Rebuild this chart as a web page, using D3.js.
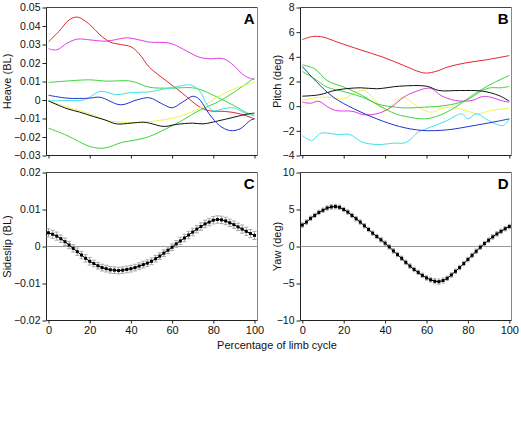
<!DOCTYPE html>
<html><head><meta charset="utf-8">
<script src="https://cdn.jsdelivr.net/npm/d3@7"></script>
<style>
html,body{margin:0;padding:0;background:#fff;}
svg text{font-family:"Liberation Sans",Arial,Helvetica,sans-serif;}
</style></head>
<body>
<svg id="chart" width="521" height="441"></svg>
<script>
// ---------- DATA ----------
// Panel A: Heave (BL), [percent, value]
const heaveRed = [[0,0.0315],[5,0.037],[10,0.0433],[14,0.0448],[20,0.0408],[25,0.0352],[30,0.0313],[35,0.0300],[40,0.0288],[44,0.025],[49,0.0177],[57,0.0105],[65,0.0037],[73,-0.0035],[78,-0.0058],[86,-0.0062],[93,-0.0075],[100,-0.0102]];
const heaveMagenta = [[0,0.0277],[4,0.0271],[9,0.0307],[14,0.0329],[20,0.0325],[28,0.0318],[38,0.0336],[44,0.0325],[49,0.0313],[59,0.0307],[65,0.0277],[73,0.0232],[78,0.0223],[85,0.0223],[90,0.0186],[95,0.0132],[100,0.0109]];
const heaveGreen1 = [[0,0.0095],[12,0.0105],[20,0.0109],[28,0.0102],[40,0.0102],[49,0.0069],[59,0.0064],[70,0.0066],[75,0.0051],[82,0.0015],[90,-0.003],[96,-0.0068],[100,-0.0084]];
const heaveGreen2 = [[0,-0.0152],[9,-0.0192],[20,-0.0251],[27,-0.026],[36,-0.0228],[43,-0.0215],[49,-0.0197],[57,-0.0156],[65,-0.011],[73,-0.0057],[82,-0.0012],[90,0.0042],[100,0.012]];
const heaveBlue = [[0,0.0026],[9,0.001],[20,0.001],[25,0.0015],[35,-0.0026],[43,0.0001],[49,0.0012],[55,-0.002],[60,-0.0042],[65,-0.0012],[70,0.002],[73,0.0006],[78,-0.0075],[83,-0.0138],[88,-0.0165],[93,-0.0156],[98,-0.011],[100,-0.0102]];
const heaveCyan = [[0,-0.0005],[9,-0.0003],[17,0],[20,0.0015],[25,0.0047],[33,0.0029],[40,0.004],[49,0.0044],[56,0.0059],[62,0.0072],[69,0.0081],[73,0.0054],[77,-0.0025],[80,-0.0058],[85,-0.0047],[90,-0.0042],[95,-0.0069],[100,-0.0085]];
const heaveBlack = [[0,-0.0005],[9,-0.0047],[15,-0.0065],[22,-0.009],[27,-0.0106],[33,-0.0129],[40,-0.0125],[46,-0.012],[49,-0.0125],[56,-0.0143],[62,-0.0132],[70,-0.0125],[75,-0.0129],[82,-0.0114],[90,-0.0093],[97,-0.0075],[100,-0.0071]];
const heaveYellow = [[0,-0.0005],[9,-0.0038],[15,-0.0056],[22,-0.0083],[28,-0.011],[35,-0.0119],[44,-0.0122],[49,-0.0117],[59,-0.0101],[65,-0.0083],[73,-0.0047],[82,0.0015],[90,0.006],[100,0.0096]];

// Panel B: Pitch (deg), [percent, value]
const pitchRed = [[0,5.4],[5,5.65],[10,5.6],[17,5.19],[28,4.57],[39,3.97],[49,3.3],[57,2.76],[60,2.68],[65,2.84],[70,3.16],[79,3.51],[89,3.76],[100,4.1]];
const pitchBlack = [[0,0.81],[8,0.92],[17,1.32],[28,1.49],[36,1.41],[47,1.62],[60,1.62],[66,1.27],[76,1.27],[87,1.22],[95,0.86],[100,0.41]];
const pitchBlue = [[0,3.22],[7,1.95],[15,0.73],[25,-0.22],[36,-1.03],[47,-1.65],[58,-1.97],[70,-1.92],[83,-1.57],[92,-1.3],[100,-1.03]];
const pitchGreen1 = [[0,3.35],[6,3.03],[12,2.08],[21,1.49],[29,0.86],[37,0.05],[45,-0.62],[50,-0.84],[59,-1.03],[66,-0.76],[74,-0.08],[82,0.86],[90,1.68],[100,2.49]];
const pitchGreen2 = [[0,2.81],[6,2.22],[12,1.54],[21,1.14],[29,0.73],[37,0.14],[45,-0.08],[50,-0.14],[59,-0.08],[69,0.05],[79,0.46],[87,1.27],[91,1.49],[96,1.49],[100,1.6]];
const pitchMagenta = [[0,0.32],[4,0.24],[8,0.40],[12,-0.03],[16,-0.35],[24,-0.41],[30,-0.7],[37,-0.57],[43,-0.08],[49,0.73],[54,1.14],[62,1.45],[67,0.86],[74,0.46],[82,0.46],[87,0.78],[91,0.73],[96,0.46],[100,0.32]];
const pitchYellow = [[0,0.46],[6,0.68],[12,0.73],[20,0.59],[26,1.14],[30,1.27],[35,0.46],[40,-0.35],[44,0.19],[49,0.7],[56,-0.08],[62,-0.49],[67,-0.22],[72,-0.08],[79,-0.35],[85,-0.62],[91,-0.35],[100,-0.16]];
const pitchCyan = [[0,-2.38],[4.5,-2.78],[9,-2.19],[17,-2.3],[23,-2.3],[29,-2.92],[37,-3.11],[44,-3.0],[50,-2.95],[56,-2.11],[62,-1.7],[70,-1.16],[77,-0.62],[80,-1.03],[84,-0.62],[90,-1.16],[97,-1.57],[100,-1.03]];

// Panels C and D: mean +/- error at every 2% of limb cycle
const cyclePct = [0,2,4,6,8,10,12,14,16,18,20,22,24,26,28,30,32,34,36,38,40,42,44,46,48,50,52,54,56,58,60,62,64,66,68,70,72,74,76,78,80,82,84,86,88,90,92,94,96,98,100];
const sideslipMean = [0.0037,0.0033,0.0028,0.0021,0.0013,0.0004,-0.0005,-0.0014,-0.0023,-0.0032,-0.0040,-0.0046,-0.0052,-0.0057,-0.0060,-0.0063,-0.0064,-0.0065,-0.0064,-0.0062,-0.0060,-0.0057,-0.0053,-0.0049,-0.0045,-0.0040,-0.0033,-0.0026,-0.0018,-0.0010,-0.0002,0.0007,0.0015,0.0023,0.0031,0.0039,0.0047,0.0054,0.0061,0.0066,0.0071,0.0073,0.0072,0.0069,0.0064,0.0059,0.0053,0.0047,0.0041,0.0035,0.0030];
const sideslipErr = [0.0011,0.0011,0.0011,0.0010,0.0010,0.0010,0.0010,0.0010,0.0010,0.0010,0.0010,0.0009,0.0009,0.0009,0.0009,0.0009,0.0009,0.0009,0.0009,0.0009,0.0009,0.0009,0.0009,0.0009,0.0009,0.0009,0.0009,0.0009,0.0009,0.0009,0.0009,0.0009,0.0010,0.0010,0.0010,0.0010,0.0010,0.0010,0.0010,0.0010,0.0010,0.0010,0.0010,0.0010,0.0010,0.0010,0.0010,0.0011,0.0011,0.0011,0.0011];
const yawMean = [2.9,3.3,3.8,4.2,4.6,4.9,5.2,5.35,5.4,5.3,5.0,4.65,4.2,3.75,3.3,2.8,2.3,1.8,1.35,0.9,0.45,-0.05,-0.6,-1.1,-1.6,-2.15,-2.65,-3.1,-3.5,-3.9,-4.25,-4.5,-4.7,-4.75,-4.6,-4.3,-3.85,-3.35,-2.85,-2.3,-1.75,-1.2,-0.65,-0.1,0.4,0.85,1.3,1.7,2.05,2.4,2.7];
const yawErr = [0.3,0.3,0.3,0.3,0.3,0.3,0.3,0.3,0.3,0.3,0.3,0.3,0.3,0.3,0.3,0.3,0.3,0.3,0.3,0.3,0.3,0.3,0.3,0.3,0.3,0.3,0.3,0.3,0.3,0.3,0.3,0.3,0.35,0.35,0.35,0.3,0.3,0.3,0.3,0.3,0.3,0.3,0.3,0.3,0.3,0.3,0.3,0.3,0.3,0.3,0.3];

// Tick values
const heaveTicks = [-0.03,-0.02,-0.01,0,0.01,0.02,0.03,0.04,0.05];
const pitchTicks = [-4,-2,0,2,4,6,8];
const sideslipTicks = [-0.02,-0.01,0,0.01,0.02];
const yawTicks = [-10,-5,0,5,10];
const pctTicks = [0,20,40,60,80,100];

// ---------- DRAW ----------
const svg = d3.select("#chart");
const fmt2 = v => v === 0 ? "0" : d3.format(".2f")(v);
const fmtInt = v => d3.format("d")(v);

function panel(opt){
  const g = svg.append("g");
  const x = d3.scaleLinear().domain([0,100]).range(opt.xr);
  const y = d3.scaleLinear().domain(opt.yd).range(opt.yr);
  const fx0 = opt.fx[0], fx1 = opt.fx[1], fy0 = opt.yr[1], fy1 = opt.yr[0];
  g.append("line").attr("x1",fx0).attr("x2",fx1).attr("y1",fy0).attr("y2",fy0).attr("stroke","#444");
  g.append("line").attr("x1",fx1).attr("x2",fx1).attr("y1",fy0).attr("y2",fy1).attr("stroke","#888");
  const ya = g.append("g").attr("transform",`translate(${fx0},0)`)
    .call(d3.axisLeft(y).tickValues(opt.yt).tickFormat(opt.yf).tickSize(4).tickSizeOuter(0).tickPadding(2));
  ya.select(".domain").attr("d",`M0,${fy0}V${fy1}`).attr("stroke","#222");
  ya.selectAll(".tick line").attr("stroke","#222");
  ya.selectAll("text").attr("font-size",10.5).attr("fill","#111").style("font-family","'Liberation Sans',Arial,sans-serif");
  const xa = g.append("g").attr("transform",`translate(0,${fy1})`)
    .call(d3.axisBottom(x).tickValues(pctTicks).tickFormat(opt.xlabels ? fmtInt : "").tickSize(3).tickSizeOuter(0).tickPadding(3));
  xa.select(".domain").attr("d",`M${fx0},0H${fx1}`).attr("stroke","#222");
  xa.selectAll(".tick line").attr("stroke","#222");
  xa.selectAll("text").attr("font-size",11).attr("fill","#111").style("font-family","'Liberation Sans',Arial,sans-serif");
  g.append("text").attr("transform",`translate(${opt.titleX},${(fy0+fy1)/2}) rotate(-90)`)
    .attr("text-anchor","middle").attr("font-size",11).attr("fill","#111").text(opt.title);
  g.append("text").attr("x",fx1-3).attr("y",fy0+16).attr("text-anchor","end")
    .attr("font-size",15).attr("font-weight","bold").attr("fill","#000").text(opt.letter);
  return {g,x,y,fx0,fx1};
}

function drawLines(p, series){
  const line = d3.line().x(d=>p.x(d[0])).y(d=>p.y(d[1])).curve(d3.curveCatmullRom.alpha(0.5));
  series.forEach(s=>{
    p.g.append("path").attr("d",line(s.data)).attr("fill","none").attr("stroke",s.color).attr("stroke-width",1);
  });
}

function drawMean(p, mean, err, capW){
  p.g.append("line").attr("x1",p.fx0).attr("x2",p.fx1).attr("y1",p.y(0)).attr("y2",p.y(0)).attr("stroke","#999").attr("stroke-width",1);
  const pts = cyclePct.map((c,i)=>({c,m:mean[i],e:err[i]}));
  const eb = p.g.append("g").attr("stroke","#a8a8a8").attr("stroke-width",1);
  pts.forEach(d=>{
    const xx = p.x(d.c), y1 = p.y(d.m+d.e), y2 = p.y(d.m-d.e);
    eb.append("line").attr("x1",xx).attr("x2",xx).attr("y1",y1).attr("y2",y2);
    eb.append("line").attr("x1",xx-capW).attr("x2",xx+capW).attr("y1",y1).attr("y2",y1);
    eb.append("line").attr("x1",xx-capW).attr("x2",xx+capW).attr("y1",y2).attr("y2",y2);
  });
  const line = d3.line().x(d=>p.x(d.c)).y(d=>p.y(d.m));
  p.g.append("path").attr("d",line(pts)).attr("fill","none").attr("stroke","#000").attr("stroke-width",1);
  p.g.selectAll(null).data(pts).enter().append("rect")
    .attr("x",d=>p.x(d.c)-1.5).attr("y",d=>p.y(d.m)-1.5).attr("width",3).attr("height",3).attr("fill","#000");
}

const C = {red:"#e3262a",magenta:"#e03ce0",green:"#3ed43e",blue:"#2233cc",cyan:"#3fe3e6",yellow:"#f2f24a",black:"#111"};

const pA = panel({xr:[48.5,254.5],fx:[46.5,257.5],yd:[-0.03,0.05],yr:[155.5,7.5],yt:heaveTicks,yf:fmt2,xlabels:false,title:"Heave (BL)",titleX:11,letter:"A"});
drawLines(pA,[
  {data:heaveMagenta,color:C.magenta},{data:heaveRed,color:C.red},
  {data:heaveGreen1,color:C.green},{data:heaveGreen2,color:C.green},
  {data:heaveYellow,color:C.yellow},{data:heaveCyan,color:C.cyan},
  {data:heaveBlack,color:C.black},{data:heaveBlue,color:C.blue}
]);

const pB = panel({xr:[302.3,509.3],fx:[300.5,511.5],yd:[-4,8],yr:[155.5,7.5],yt:pitchTicks,yf:fmtInt,xlabels:false,title:"Pitch (deg)",titleX:281,letter:"B"});
drawLines(pB,[
  {data:pitchRed,color:C.red},{data:pitchYellow,color:C.yellow},
  {data:pitchGreen1,color:C.green},{data:pitchGreen2,color:C.green},
  {data:pitchMagenta,color:C.magenta},{data:pitchCyan,color:C.cyan},
  {data:pitchBlack,color:C.black},{data:pitchBlue,color:C.blue}
]);

const pC = panel({xr:[48.5,254.5],fx:[46.5,257.5],yd:[-0.02,0.02],yr:[320.5,172.5],yt:sideslipTicks,yf:fmt2,xlabels:true,title:"Sideslip (BL)",titleX:11,letter:"C"});
drawMean(pC, sideslipMean, sideslipErr, 2);

const pD = panel({xr:[302.3,509.3],fx:[300.5,511.5],yd:[-10,10],yr:[320.5,172.5],yt:yawTicks,yf:fmtInt,xlabels:true,title:"Yaw (deg)",titleX:281,letter:"D"});
drawMean(pD, yawMean, yawErr, 1.5);

svg.append("text").attr("x",277).attr("y",349).attr("text-anchor","middle")
  .attr("font-size",11).attr("fill","#111").text("Percentage of limb cycle");
</script>
</body></html>
